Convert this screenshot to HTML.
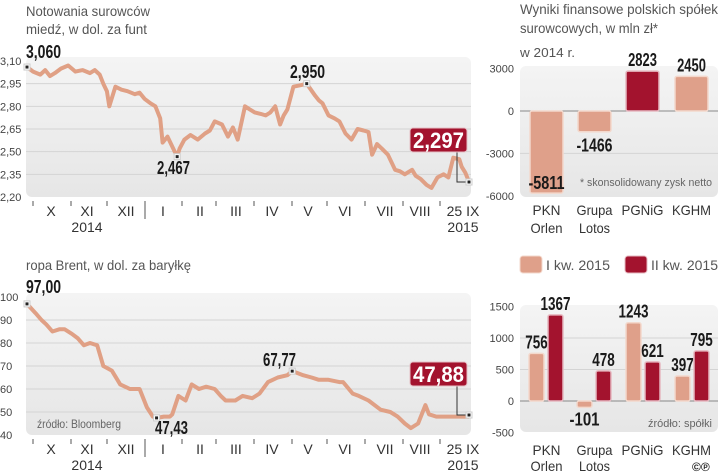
<!DOCTYPE html>
<html><head><meta charset="utf-8">
<style>
html,body{margin:0;padding:0;background:#fff;}
svg{display:block;font-family:"Liberation Sans Narrow","Liberation Sans",sans-serif;}
.t{fill:#555;font-size:14px;}
.ax{fill:#444;font-size:11px;}
.m{fill:#333;font-size:14px;}
.b{fill:#1a1a1a;font-size:18px;font-weight:bold;}
</style></head>
<body>
<svg id="s" width="720" height="472" viewBox="0 0 720 472" xmlns="http://www.w3.org/2000/svg">
<defs>
<linearGradient id="g" x1="0" y1="0" x2="0" y2="1"><stop offset="0" stop-color="#f4f4f4"/><stop offset="1" stop-color="#e6e6e6"/></linearGradient>
</defs>
<text x="26" y="16" class="t" textLength="124" lengthAdjust="spacingAndGlyphs">Notowania surowców</text>
<text x="26" y="34" class="t" textLength="121" lengthAdjust="spacingAndGlyphs">miedź, w dol. za funt</text>
<text x="26" y="270" class="t" textLength="165" lengthAdjust="spacingAndGlyphs">ropa Brent, w dol. za baryłkę</text>
<text x="520" y="14" class="t" textLength="198" lengthAdjust="spacingAndGlyphs">Wyniki finansowe polskich spółek</text>
<text x="520" y="33" class="t" textLength="138" lengthAdjust="spacingAndGlyphs">surowcowych, w mln zł*</text>
<text x="520" y="57" class="t" style="font-size:13px" textLength="55" lengthAdjust="spacingAndGlyphs">w 2014 r.</text>
<g id="copper"></g>
<g id="oil"></g>
<g id="bars1"></g>
<g id="bars2"></g>
<rect x="520" y="256" width="22" height="17" rx="3" fill="#dfa08a" stroke="#f3d8cc"/>
<text x="546" y="270" class="t" style="font-size:14px" textLength="64" lengthAdjust="spacingAndGlyphs">I kw. 2015</text>
<rect x="625" y="256" width="22" height="17" rx="3" fill="#a3132e" stroke="#e6b8c0"/>
<text x="651" y="270" class="t" style="font-size:14px" textLength="67" lengthAdjust="spacingAndGlyphs">II kw. 2015</text>
<text x="692" y="471" style="font-size:12px;font-weight:bold" fill="#222">©℗</text>
</svg>
<script>
const NS="http://www.w3.org/2000/svg";
const months=["X","XI","XII","I","II","III","IV","V","VI","VII","VIII"];
const copperDays=[0,5,11,15,19,23,28,34,40,46,52,56,60,63,66,68,73,78,83,89,93,97,102,106,110,112,116,119,122,124,126,130,135,141,147,151,155,161,166,170,172,174,180,184,188,193,197,201,205,209,212,215,220,226,231,238,241,244,249,254,258,263,268,273,278,282,285,289,293,298,304,308,312,318,321,325,330,334,339,344,348,352,357,359,362,365];
const copperVals=[3.06,3.03,3.01,3.04,3.00,3.02,3.05,3.07,3.03,3.04,3.02,3.04,3.01,2.95,2.90,2.80,2.93,2.91,2.90,2.88,2.89,2.85,2.82,2.80,2.72,2.56,2.60,2.55,2.50,2.47,2.52,2.58,2.61,2.58,2.62,2.64,2.70,2.68,2.60,2.66,2.62,2.58,2.80,2.78,2.76,2.75,2.74,2.76,2.80,2.68,2.74,2.78,2.93,2.94,2.95,2.87,2.84,2.82,2.74,2.72,2.70,2.62,2.58,2.65,2.64,2.63,2.48,2.55,2.52,2.48,2.38,2.37,2.35,2.38,2.34,2.32,2.28,2.26,2.33,2.35,2.33,2.46,2.45,2.40,2.36,2.30];
const copperTicks=["3,10","2,95","2,80","2,65","2,50","2,35","2,20"];
const copperTickVals=[3.10,2.95,2.80,2.65,2.50,2.35,2.20];
const oilDays=[0,7,12,16,21,27,31,37,42,47,52,58,63,70,77,85,93,99,104,107,113,118,120,125,131,136,142,148,155,160,164,172,178,186,192,199,207,215,219,223,228,235,241,249,258,261,269,274,282,292,300,306,312,317,323,329,332,338,346,350,357,365];
const oilVals=[97,93,90,88,85,86,86,84,82,79,80,79,70,68,62,60,60,52,48,47.4,48,48,49,57,55,62,60,61,60,57,55,55,57,56,58,63,65,66,67.8,67,66,65,64,64,63,63,58,57,55,51,50,48,45,43,45,53,49,48,48,48,48,47.9];
const oilTicks=["100","90","80","70","60","50","40"];
const oilTickVals=[100,90,80,70,60,50,40];
const cats=["PKN|Orlen","Grupa|Lotos","PGNiG","KGHM"];
const profit2014=[-5811,-1466,2823,2450];
const q1_2015=[756,-101,1243,397];
const q2_2015=[1367,478,621,795];
const ticks2014=[3000,0,-3000,-6000];
const ticks2015=[1500,1000,500,0,-500];

function el(tag,attrs,parent,txt){const e=document.createElementNS(NS,tag);for(const k in attrs)e.setAttribute(k,attrs[k]);if(txt!=null)e.textContent=txt;parent.appendChild(e);return e;}
function fit(t,w){t.setAttribute("textLength",w);t.setAttribute("lengthAdjust","spacingAndGlyphs");return t;}
const catW={"PKN":28,"Orlen":32,"Grupa":36,"Lotos":31,"PGNiG":42,"KGHM":39};
const xDay=d=>27+d/365*442;
const tickXs=[33,71,107,145,182,216,254,292,327,365,403,440];
const labXs=[51,87,126,163,200,236,272,308,345,385,420];

function lineChart(g,days,vals,ticks,tickVals,yTop,yBot,vMax,vMin,name){
  const y=v=>yTop+(vMax-v)/(vMax-vMin)*(yBot-yTop);
  el("rect",{x:26,y:yTop-4,width:445,height:yBot-yTop+4,rx:6,fill:"url(#g)"},g);
  tickVals.forEach((v,i)=>{
    if(i>0&&i<tickVals.length-1){const l=el("line",{x1:26,x2:471,y1:y(v),y2:y(v),stroke:"#d4d4d4","stroke-width":1},g);}
    const t=el("text",{x:0,y:y(v)+4,class:"ax"},g,ticks[i]);
    
    
  });
  tickXs.forEach((x,i)=>{el("line",{x1:x,x2:x,y1:yBot+4,y2:i==3?yBot+22:yBot+9,stroke:"#555","stroke-width":1},g);});
  months.forEach((m,i)=>{
    const t=el("text",{x:labXs[i],y:yBot+19,class:"m","text-anchor":"middle"},g,m);
    
    
  });
  el("text",{x:463,y:yBot+19,class:"m","text-anchor":"middle"},g,"25 IX");
  el("text",{x:463,y:yBot+35,class:"m","text-anchor":"middle"},g,"2015");
  el("text",{x:87,y:yBot+35,class:"m","text-anchor":"middle"},g,"2014");
  const p=el("path",{d:days.map((d,i)=>(i?"L":"M")+xDay(d).toFixed(1)+","+y(vals[i]).toFixed(1)).join(""),fill:"none",stroke:"#e0a085","stroke-width":4,"stroke-linejoin":"round"},g);
  
  
  return y;
}
function marker(g,x,y){el("rect",{x:x-3,y:y-3,width:6,height:6,fill:"#fff",stroke:"#ccc"},g);el("rect",{x:x-1.5,y:y-1.5,width:3,height:3,fill:"#222"},g);}
function boxLabel(g,txt,cy,name){
  const r=el("rect",{x:410,y:cy,width:57,height:24,rx:3,fill:"#a3132e",stroke:"#e6c0c6"},g);
  
  
  fit(el("text",{x:413,y:cy+20,fill:"#fff","font-size":22,"font-weight":"bold"},g,txt),51);
}
// copper
const gc=document.getElementById("copper");
const yc=lineChart(gc,copperDays,copperVals,copperTicks,copperTickVals,61,197,3.10,2.20,"copper");
el("polyline",{points:"457,152 457,182 469,182",fill:"none",stroke:"#333"},gc);
marker(gc,xDay(0),yc(3.06));marker(gc,xDay(124),yc(2.467));marker(gc,xDay(231),yc(2.95));marker(gc,469,182);
fit(el("text",{x:26,y:58,class:"b"},gc,"3,060"),35);
fit(el("text",{x:290,y:78,class:"b"},gc,"2,950"),35);
fit(el("text",{x:157,y:174,class:"b"},gc,"2,467"),33);
boxLabel(gc,"2,297",128,"copper-last-value");
// oil
const go=document.getElementById("oil");
const yo=lineChart(go,oilDays,oilVals,oilTicks,oilTickVals,297,435,100,40,"oil");
el("polyline",{points:"457,386 457,415 469,415",fill:"none",stroke:"#333"},go);
marker(go,xDay(0),yo(97));marker(go,xDay(107),yo(47.43));marker(go,xDay(219),yo(67.77));marker(go,469,415);
fit(el("text",{x:26,y:293,class:"b"},go,"97,00"),35);
fit(el("text",{x:263,y:366,class:"b"},go,"67,77"),33);
fit(el("text",{x:155,y:434,class:"b"},go,"47,43"),33);
fit(el("text",{x:37,y:428,fill:"#666","font-size":12},go,"źródło: Bloomberg"),84);
boxLabel(go,"47,88",362,"oil-last-value");

// bars 2014
const b1=document.getElementById("bars1");
const y1=v=>111-v*0.01413;
el("rect",{x:520,y:66,width:198,height:131,rx:6,fill:"url(#g)"},b1);
ticks2014.forEach(v=>{
  if(v!=0&&v!=3000&&v!=-6000)el("line",{x1:520,x2:718,y1:y1(v),y2:y1(v),stroke:"#d4d4d4"},b1);
  const t=el("text",{x:514,y:y1(v)+4,class:"ax","text-anchor":"end"},b1,String(v));
  
  
});
el("line",{x1:520,x2:718,y1:y1(0),y2:y1(0),stroke:"#888"},b1);
const bx1=[530,578,626,675];
fit(el("text",{x:580,y:186,fill:"#666","font-size":11},b1,"* skonsolidowany zysk netto"),132);
profit2014.forEach((v,i)=>{
  const top=Math.min(y1(v),y1(0)),h=Math.abs(y1(v)-y1(0));
  const r=el("rect",{x:bx1[i],y:top,width:33,height:h,rx:2,fill:i==2?"#a3132e":"#dfa08a",stroke:i==2?"#e6b8c0":"#f3d8cc","stroke-width":1.5},b1);
  
  
  let ly=v>=0?y1(v)-5:(v<-4000?y1(v)-4:y1(v)+20);
  const s=String(v);
  fit(el("text",{x:bx1[i]+16.5-s.length*3.6,y:ly,class:"b"},b1,s),s.length*7.2);
});
cats.forEach((c,i)=>{
  const p=c.split("|");
  p.forEach((s,j)=>{const t=el("text",{x:bx1[i]+16.5-catW[s]/2,y:215+j*18,class:"m","font-size":15},b1,s);fit(t,catW[s]);});
});

// bars 2015
const b2=document.getElementById("bars2");
const y2=v=>401-v*0.063;
el("rect",{x:520,y:305,width:198,height:127,rx:6,fill:"url(#g)"},b2);
ticks2015.forEach(v=>{
  if(v!=0&&v!=1500&&v!=-500)el("line",{x1:520,x2:718,y1:y2(v),y2:y2(v),stroke:"#d4d4d4"},b2);
  const t=el("text",{x:514,y:y2(v)+4,class:"ax","text-anchor":"end"},b2,String(v));
  
  
});
el("line",{x1:520,x2:718,y1:y2(0),y2:y2(0),stroke:"#888"},b2);
fit(el("text",{x:648,y:427,fill:"#666","font-size":11},b2,"źródło: spółki"),64);
const gx=[529,577,626,675];
[q1_2015,q2_2015].forEach((arr,s)=>{
  arr.forEach((v,i)=>{
    const x=gx[i]+s*19;
    const top=Math.min(y2(v),y2(0)),h=Math.abs(y2(v)-y2(0));
    const r=el("rect",{x:x,y:top,width:15,height:h,rx:2,fill:s?"#a3132e":"#dfa08a",stroke:s?"#e6b8c0":"#f3d8cc","stroke-width":1.5},b2);
    
    
    const t=String(v);
    fit(el("text",{x:x+7.5-t.length*3.75,y:v>=0?y2(v)-5:y2(v)+18,class:"b"},b2,t),t.length*7.5);
  });
});
cats.forEach((c,i)=>{
  c.split("|").forEach((s,j)=>{const t=el("text",{x:bx1[i]+16.5-catW[s]/2,y:455+j*16,class:"m","font-size":15},b2,s);fit(t,catW[s]);});
});
</script>
</body></html>
